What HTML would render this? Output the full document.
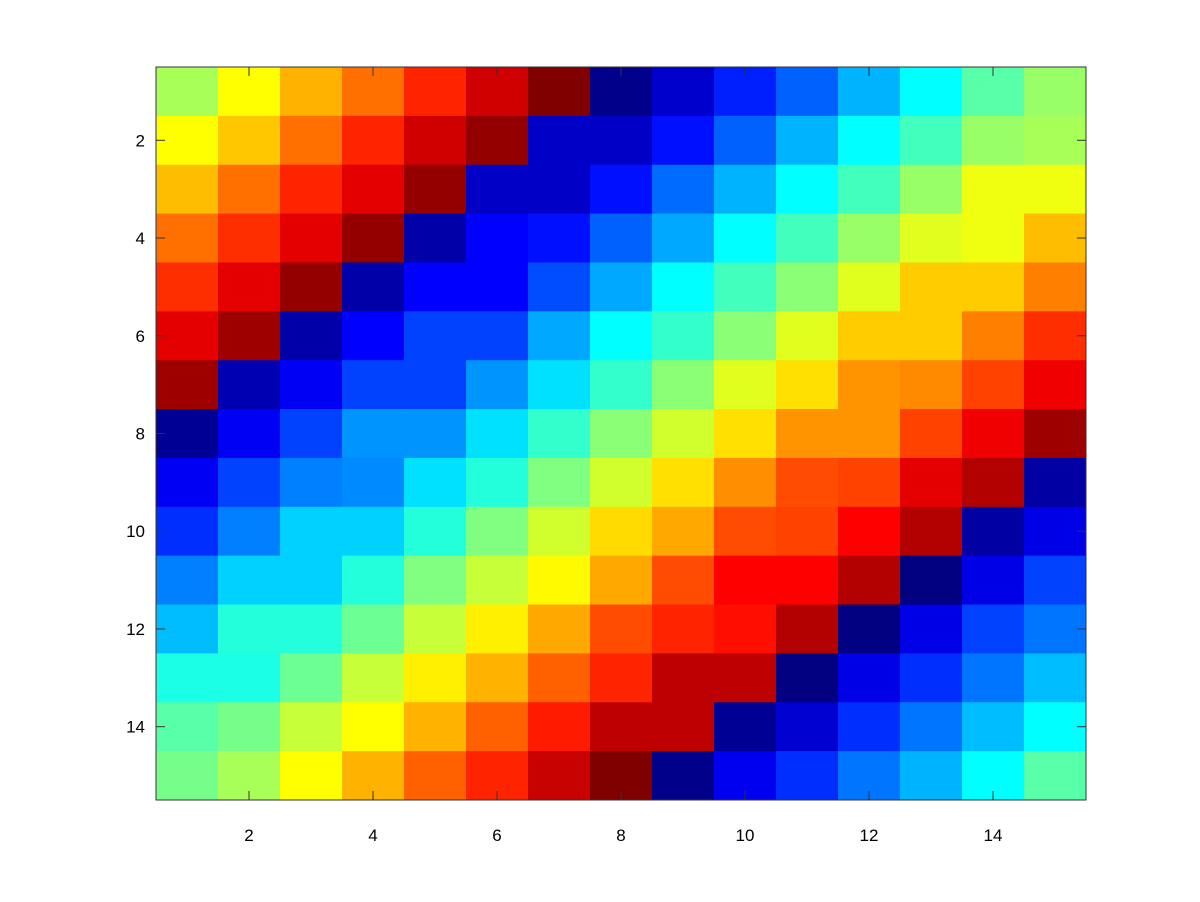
<!DOCTYPE html>
<html><head><meta charset="utf-8"><style>
html,body{margin:0;padding:0;background:#fff;}
svg{display:block;}
text{font-family:"Liberation Sans",sans-serif;font-size:17px;fill:#000;}
</style></head><body>
<svg id="chart" width="1200" height="902" viewBox="0 0 1200 902" xmlns="http://www.w3.org/2000/svg">
<g id="cells"></g>
<g id="axes"></g>
</svg>
<script>
const rowCount = 15;
const colCount = 15;
const xTickLabels = [2,4,6,8,10,12,14];
const yTickLabels = [2,4,6,8,10,12,14];
const values = [
[.54,.625,.70,.765,.84,.92,1.0,.01,.075,.155,.22,.30,.375,.46,.525],
[.625,.68,.765,.84,.92,.98,.07,.07,.14,.22,.30,.375,.44,.525,.54],
[.69,.765,.84,.90,.98,.07,.07,.14,.23,.30,.375,.44,.525,.61,.61],
[.765,.83,.90,.98,.04,.125,.14,.22,.29,.375,.44,.525,.595,.61,.69],
[.83,.90,.98,.04,.125,.125,.20,.29,.375,.44,.51,.595,.675,.675,.75],
[.90,.97,.04,.125,.19,.19,.29,.375,.425,.51,.595,.675,.675,.75,.83],
[.97,.05,.115,.19,.19,.27,.345,.425,.51,.595,.655,.73,.74,.81,.89],
[.02,.115,.19,.27,.27,.345,.425,.51,.58,.655,.73,.73,.81,.89,.97],
[.115,.19,.25,.26,.345,.41,.50,.58,.655,.735,.80,.81,.90,.95,.035],
[.17,.25,.33,.33,.41,.50,.58,.66,.71,.80,.81,.875,.95,.035,.10],
[.25,.33,.33,.41,.50,.57,.63,.71,.80,.875,.875,.95,.0,.10,.19],
[.31,.41,.41,.48,.57,.64,.71,.80,.84,.86,.95,.0,.10,.19,.24],
[.40,.40,.48,.57,.64,.70,.78,.84,.94,.94,.0,.10,.17,.24,.31],
[.46,.49,.57,.625,.70,.78,.85,.94,.94,.02,.08,.17,.24,.31,.375],
[.49,.54,.625,.70,.78,.84,.93,1.0,.01,.11,.17,.24,.30,.375,.46]
];
const L=156,T=67,R=1086,B=800;
const cw=(R-L)/colCount, ch=(B-T)/rowCount;
function xPos(c){return L+(c-0.5)*cw;}
function yPos(r){return T+(r-0.5)*ch;}
function clamp(x){return Math.max(0,Math.min(1,x));}
function jet(v){
  const r=clamp(Math.min(4*v-1.5,-4*v+4.5));
  const g=clamp(Math.min(4*v-0.5,-4*v+3.5));
  const b=clamp(Math.min(4*v+0.5,-4*v+2.5));
  return `rgb(${Math.round(r*255)},${Math.round(g*255)},${Math.round(b*255)})`;
}
const NS="http://www.w3.org/2000/svg";
const cells=document.getElementById('cells');
values.forEach((row,i)=>row.forEach((v,j)=>{
  const x0=xPos(j+0.5), x1=xPos(j+1.5), y0=yPos(i+0.5), y1=yPos(i+1.5);
  const el=document.createElementNS(NS,'rect');
  
  
  el.setAttribute('x',x0);el.setAttribute('y',y0);
  el.setAttribute('width',x1-x0+0.5);el.setAttribute('height',y1-y0+0.5);
  el.setAttribute('fill',jet(v));
  cells.appendChild(el);
}));
const axes=document.getElementById('axes');
const box=document.createElementNS(NS,'rect');


box.setAttribute('x',L);box.setAttribute('y',T);box.setAttribute('width',R-L);box.setAttribute('height',B-T);
box.setAttribute('fill','none');box.setAttribute('stroke','#333');box.setAttribute('stroke-width','1');
axes.appendChild(box);
function line(x1,y1,x2,y2){
  const l=document.createElementNS(NS,'line');
  
  
  l.setAttribute('x1',x1);l.setAttribute('y1',y1);l.setAttribute('x2',x2);l.setAttribute('y2',y2);
  l.setAttribute('stroke','#333');axes.appendChild(l);
}
xTickLabels.forEach(t=>{
  const x=xPos(t);
  line(x,B,x,B-9);line(x,T,x,T+9);
  const tx=document.createElementNS(NS,'text');
  
  
  tx.setAttribute('x',x);tx.setAttribute('y',841);tx.setAttribute('text-anchor','middle');
  tx.textContent=t;axes.appendChild(tx);
});
yTickLabels.forEach(t=>{
  const y=yPos(t);
  line(L,y,L+9,y);line(R,y,R-9,y);
  const tx=document.createElementNS(NS,'text');
  
  
  tx.setAttribute('x',145);tx.setAttribute('y',y+6);tx.setAttribute('text-anchor','end');
  tx.textContent=t;axes.appendChild(tx);
});
</script>
</body></html>
